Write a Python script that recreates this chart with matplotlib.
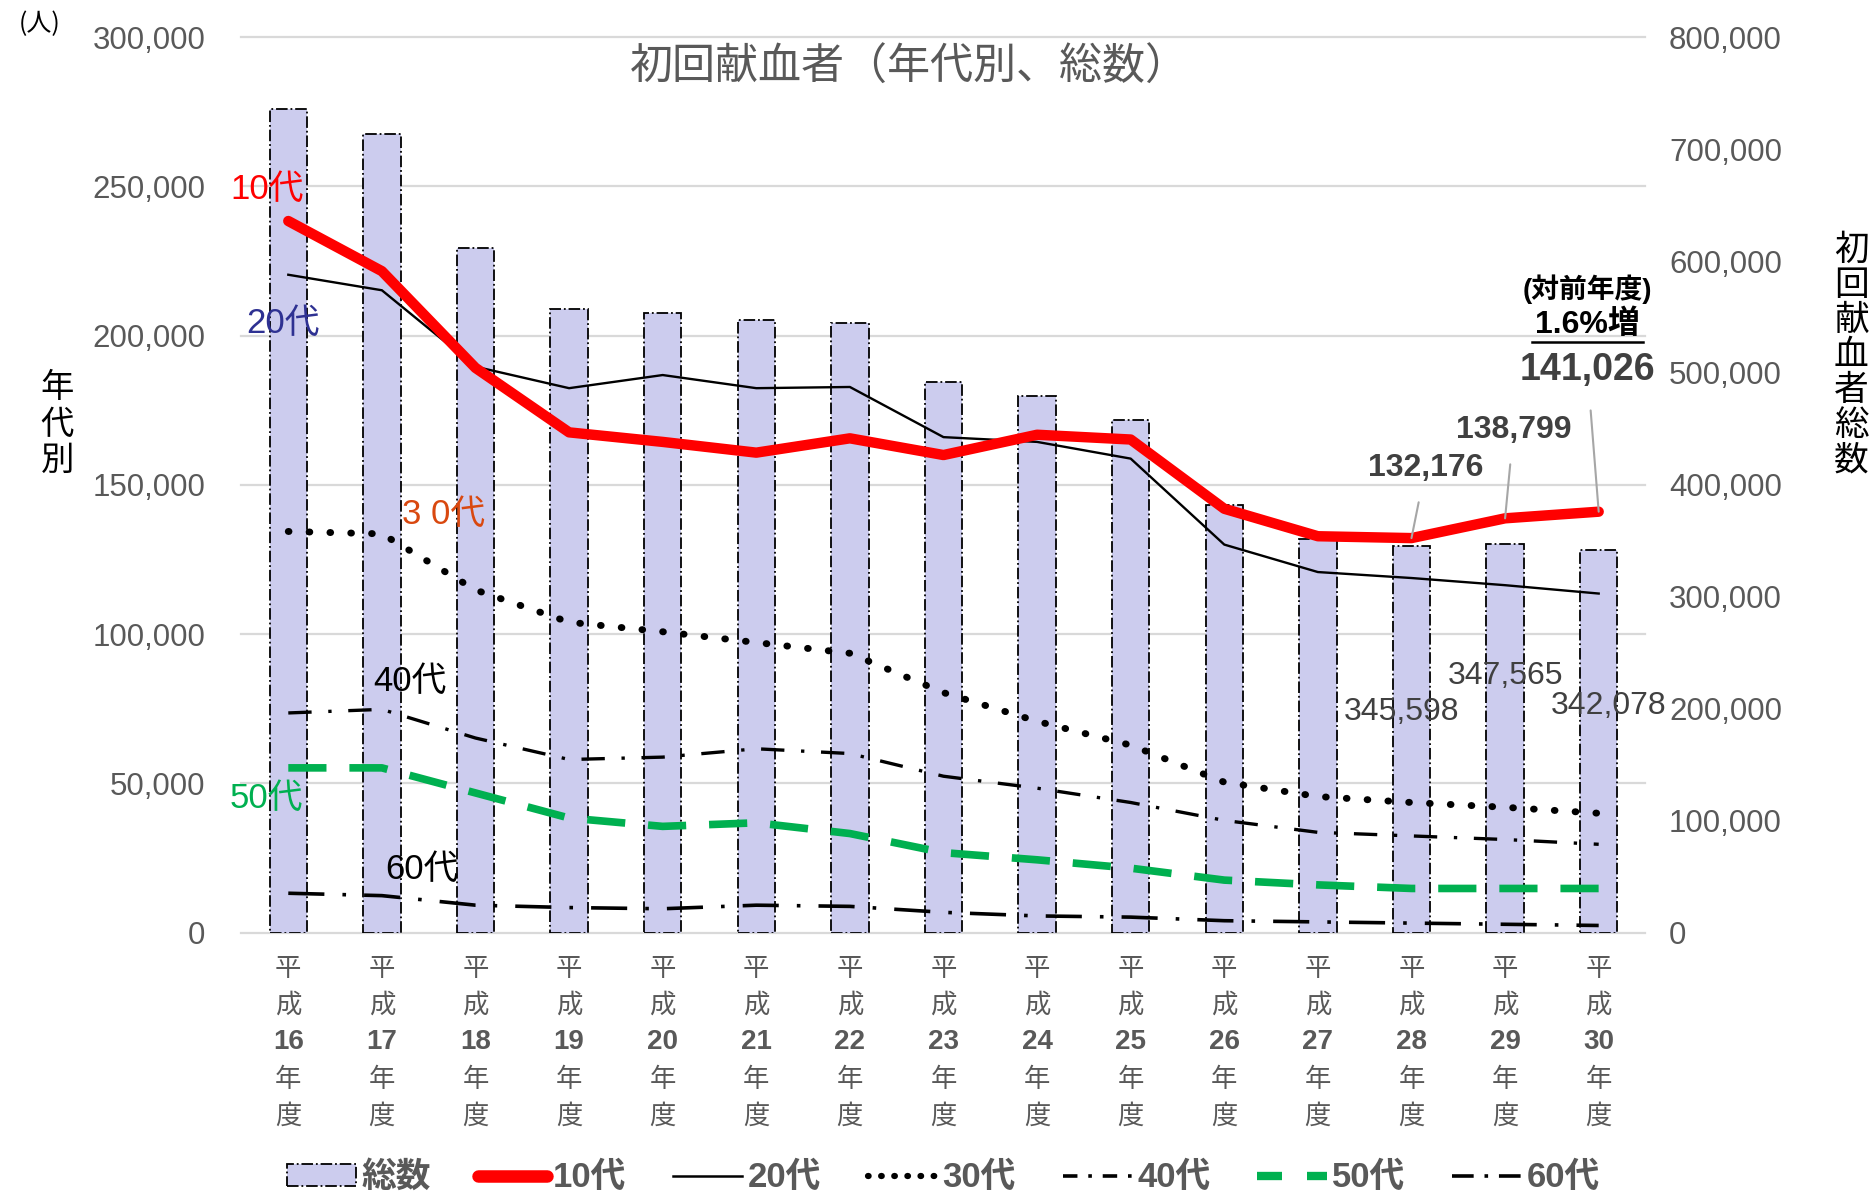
import matplotlib
matplotlib.use('Agg')
import matplotlib.pyplot as plt
from matplotlib.lines import Line2D
from matplotlib.patches import Patch
from matplotlib.transforms import blended_transform_factory

plt.rcParams['font.family'] = ['Liberation Sans', 'Noto Sans CJK JP', 'DejaVu Sans']

years = ['16', '17', '18', '19', '20', '21', '22', '23', '24', '25', '26', '27', '28', '29', '30']
total = [736000, 713600, 612000, 556800, 553600, 547000, 545000, 491700, 479000, 457600,
         381900, 352000, 345598, 347565, 342078]
age10 = [238400, 221600, 189200, 167600, 164400, 160800, 165600, 160000, 166800, 165200,
         142000, 132800, 132176, 138799, 141026]
age20 = [220400, 215200, 189600, 182400, 186800, 182400, 182800, 166000, 164400, 158800,
         130000, 120800, 118800, 116400, 113600]
age30 = [134400, 133600, 114800, 104000, 100800, 97200, 93600, 80400, 70800, 62800,
         50400, 45600, 43600, 42000, 40000]
age40 = [73600, 74800, 65200, 58000, 58800, 61600, 60000, 52400, 48400, 43600,
         37600, 33600, 32400, 31200, 29600]
age50 = [55200, 55200, 46800, 38400, 35600, 36800, 33200, 26800, 24400, 21600,
         17600, 16000, 14800, 14800, 14800]
age60 = [13200, 12400, 9200, 8400, 8000, 9200, 8800, 6800, 5600, 5200,
         4000, 3600, 3200, 2800, 2400]

GRAY = '#595959'
BAR = '#CCCCEE'
GREEN = '#00B050'
CJK = ['Noto Sans CJK JP', 'DejaVu Sans']

fig = plt.figure(figsize=(18.72, 11.98), dpi=100)
axb = fig.add_axes([0.129, 0.2215, 0.75, 0.7475])
ax = axb.twinx()
ax.set_zorder(axb.get_zorder() + 1)
ax.patch.set_visible(False)

x = list(range(len(years)))

# bars on right scale, in background
axb.bar(x, total, width=0.4, color=BAR, edgecolor='black', linestyle='-.', linewidth=1.3, zorder=3)
axb.set_ylim(0, 800000)
axb.yaxis.tick_right()
axb.set_yticks(range(0, 800001, 100000))
axb.set_yticklabels([f'{v:,}' for v in range(0, 800001, 100000)])

# gridlines for left scale behind bars
left_ticks = list(range(0, 300001, 50000))
tr = blended_transform_factory(axb.transAxes, ax.transData)
for v in left_ticks:
    axb.plot([0, 1], [v, v], transform=tr, color='#D9D9D9', lw=1.6, zorder=1, clip_on=False)

# lines on left scale
ax.yaxis.tick_left()
ax.plot(x, age60, color='black', lw=2.6, linestyle=(0, (10, 5, 1, 5)), zorder=4)
ax.plot(x, age50, color=GREEN, lw=5.5, linestyle=(0, (5, 3)), zorder=4)
ax.plot(x, age40, color='black', lw=2.4, linestyle=(0, (7, 5, 1, 5)), zorder=4)
ax.plot(x, age30, color='black', lw=5.0, linestyle=(0, (0.1, 2.9)), dash_capstyle='round', zorder=4)
ax.plot(x, age20, color='black', lw=1.7, zorder=5)
ax.plot(x, age10, color='red', lw=7.5, solid_capstyle='round', solid_joinstyle='round', zorder=6)
ax.set_ylim(0, 300000)
ax.set_yticks(left_ticks)
ax.set_yticklabels([f'{v:,}' for v in left_ticks])
ax.set_xlim(-0.5, len(years) - 0.5)
axb.set_xlim(-0.5, len(years) - 0.5)

for a in (ax, axb):
    for s in a.spines.values():
        s.set_visible(False)
    a.tick_params(axis='both', length=0, labelsize=22.5, labelcolor=GRAY)
ax.tick_params(axis='y', pad=26)
axb.tick_params(axis='y', pad=17)
axb.set_xticks([])
ax.set_xticks([])

# vertical category labels
for i, yr in enumerate(years):
    parts = ['平', '成', yr, '年', '度']
    for k, p in enumerate(parts):
        if k == 2:
            kw = dict(fontsize=20, fontweight='bold', family=['Liberation Sans', 'Noto Sans CJK JP'])
        else:
            kw = dict(fontsize=19, family=CJK)
        ax.annotate(p, xy=(i, 0), xycoords=('data', 'axes fraction'),
                    xytext=(0, -26 - 26.5 * k), textcoords='offset points',
                    ha='center', va='center', color=GRAY, **kw)

# series labels
ax.text(-0.23, 249000, '10代', color='red', fontsize=25, ha='center', va='center')
ax.text(-0.06, 204000, '20代', color='#2E3192', fontsize=25, ha='center', va='center')
ax.text(1.66, 140000, '3 0代', color='#D9480F', fontsize=25, ha='center', va='center')
ax.text(1.30, 84000, '40代', color='black', fontsize=25, ha='center', va='center')
ax.text(-0.23, 45000, '50代', color=GREEN, fontsize=25, ha='center', va='center')
ax.text(1.43, 21000, '60代', color='black', fontsize=25, ha='center', va='center')

# 10代 value callouts
ax.annotate(f'{age10[12]:,}', xy=(12, age10[12]), xytext=(12.15, 155600), ha='center', va='center',
            fontsize=23, fontweight='bold', color='#404040',
            arrowprops=dict(arrowstyle='-', color='#A6A6A6', lw=1.5, shrinkA=12, shrinkB=0), zorder=7)
ax.annotate(f'{age10[13]:,}', xy=(13, age10[13]), xytext=(13.09, 168400), ha='center', va='center',
            fontsize=23, fontweight='bold', color='#404040',
            arrowprops=dict(arrowstyle='-', color='#A6A6A6', lw=1.5, shrinkA=12, shrinkB=0), zorder=7)
ax.annotate(f'{age10[14]:,}', xy=(14, age10[14]), xytext=(13.88, 188400), ha='center', va='center',
            fontsize=27, fontweight='bold', color='#404040',
            arrowprops=dict(arrowstyle='-', color='#A6A6A6', lw=1.5, shrinkA=14, shrinkB=0), zorder=7)
ax.text(13.88, 203600, '1.6%増', fontsize=23, fontweight='bold', color='black', ha='center', va='center')
ax.plot([13.29, 14.47], [197800, 197800], color='black', lw=1.8, clip_on=False)
ax.text(13.88, 215500, '(対前年度)', fontsize=20, fontweight='bold', color='black', ha='center', va='center')

# total value labels
narrow = ['Liberation Sans Narrow', 'Liberation Sans', 'Noto Sans CJK JP']
axb.text(11.89, 74000 * 800 / 300, f'{total[12]:,}', fontsize=23, color='#404040', ha='center', va='center', family=narrow, zorder=8)
axb.text(13.01, 86000 * 800 / 300, f'{total[13]:,}', fontsize=23, color='#404040', ha='center', va='center', family=narrow, zorder=8)
axb.text(14.11, 76000 * 800 / 300, f'{total[14]:,}', fontsize=23, color='#404040', ha='center', va='center', family=narrow, zorder=8)

# titles and axis labels
fig.text(0.486, 0.943, '初回献血者（年代別、総数）', fontsize=31, color=GRAY, ha='center', va='center', family=CJK)
fig.text(0.021, 0.980, '(人)', fontsize=18, color='black', ha='center', va='center', family=CJK)
fig.text(0.0306, 0.646, '年\n代\n別', fontsize=24, color='black', ha='center', va='center',
         linespacing=1.05, family=CJK)
fig.text(0.989, 0.703, '初\n回\n献\n血\n者\n総\n数', fontsize=25, color='black', ha='center', va='center',
         linespacing=1.0, family=CJK)

handles = [
    Patch(facecolor=BAR, edgecolor='black', linestyle='-.', linewidth=1.3),
    Line2D([], [], color='red', lw=9, solid_capstyle='round'),
    Line2D([], [], color='black', lw=1.8),
    Line2D([], [], color='black', lw=4.5, linestyle=(0, (0.1, 2.0)), dash_capstyle='round'),
    Line2D([], [], color='black', lw=2.6, linestyle=(0, (4, 3, 1, 3))),
    Line2D([], [], color=GREEN, lw=6, linestyle=(0, (3, 3))),
    Line2D([], [], color='black', lw=2.6, linestyle=(0, (6, 3, 1, 3))),
]
labels = ['総数', '10代', '20代', '30代', '40代', '50代', '60代']
leg = fig.legend(handles, labels, loc='center', bbox_to_anchor=(0.504, 0.017), ncol=7, frameon=False,
                 handlelength=2.0, handleheight=0.6, handletextpad=0.15, columnspacing=1.35,
                 prop={'size': 25, 'weight': 'bold', 'family': ['Liberation Sans', 'Noto Sans CJK JP']})
for t in leg.get_texts():
    t.set_color(GRAY)

fig.savefig('out.png', dpi=100)
